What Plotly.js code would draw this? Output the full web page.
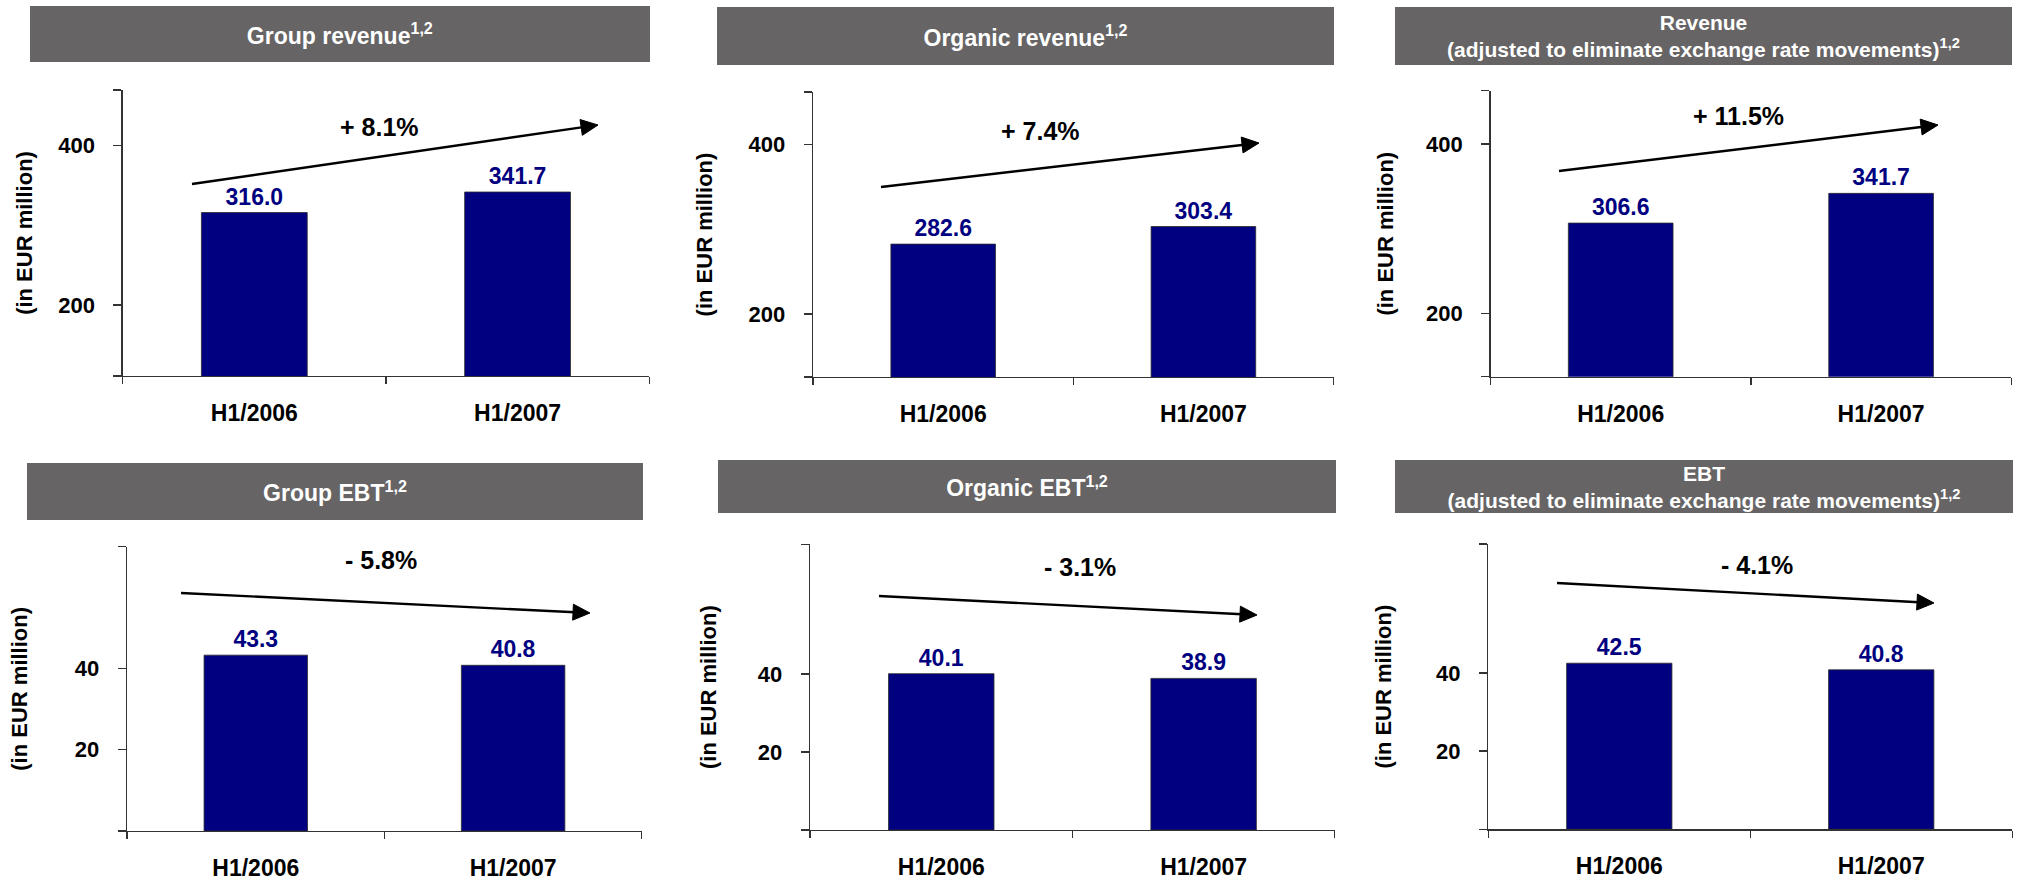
<!DOCTYPE html>
<html>
<head>
<meta charset="utf-8">
<script src="https://cdn.plot.ly/plotly-3.0.1.min.js"></script>
<style>
  html, body { margin: 0; padding: 0; background: #ffffff; }
  #chart { width: 2020px; height: 880px; }
</style>
</head>
<body>
<div id="chart"></div>
<script>
// ---- data ----
const periods = ['H1/2006', 'H1/2007'];

const groupRevenue   = [316.0, 341.7];
const organicRevenue = [282.6, 303.4];
const fxAdjRevenue   = [306.6, 341.7];
const groupEbt       = [43.3, 40.8];
const organicEbt     = [40.1, 38.9];
const fxAdjEbt       = [42.5, 40.8];

const panelTitles = [
  'Group revenue<sup>1,2</sup>',
  'Organic revenue<sup>1,2</sup>',
  'Revenue<br>(adjusted to eliminate exchange rate movements)<sup>1,2</sup>',
  'Group EBT<sup>1,2</sup>',
  'Organic EBT<sup>1,2</sup>',
  'EBT<br>(adjusted to eliminate exchange rate movements)<sup>1,2</sup>'
];
const changeLabels = ['+ 8.1%', '+ 7.4%', '+ 11.5%', '- 5.8%', '- 3.1%', '- 4.1%'];
const revenueTicks = [200, 400];
const ebtTicks = [20, 40];
const yAxisLabel = '(in EUR million)';

const series = [groupRevenue, organicRevenue, fxAdjRevenue, groupEbt, organicEbt, fxAdjEbt];
const tickSets = [revenueTicks, revenueTicks, revenueTicks, ebtTicks, ebtTicks, ebtTicks];

// ---- page geometry (pixels) ----
const W = 2020, H = 880;
const PX = v => v / W;
const PY = v => 1 - v / H;

// plot box [left, right, top, bottom], axis range, header box, trend arrow [tailX, tailY, tipX, tipY],
// change label centre, header font size, y-title standoff
const frames = [
  { box: [122.7, 649.2, 90, 376],       range: [111, 469.6],   head: [29.9, 649.6, 6, 62],     arrow: [192, 184, 598, 125],   pct: [379, 127],  hsize: 23, tstand: 19 },
  { box: [813.1, 1333.5, 92, 377],      range: [125.6, 462.3], head: [717, 1334, 7, 65],       arrow: [881, 187, 1259, 143],  pct: [1040, 131], hsize: 23, tstand: 30 },
  { box: [1490.5, 2011.3, 90.7, 376.7], range: [125.1, 463],   head: [1395, 2012, 7, 64.5],    arrow: [1559, 171, 1938, 125], pct: [1738, 116], hsize: 21, tstand: 26 },
  { box: [127.1, 641.8, 546.7, 831],    range: [0, 70],        head: [27, 643, 463, 520],      arrow: [181, 593, 590, 613],   pct: [381, 560],  hsize: 23, tstand: 41 },
  { box: [810.1, 1334.8, 544.3, 830],   range: [0, 73.3],      head: [718, 1336, 460, 513.3],  arrow: [879, 596, 1257, 615],  pct: [1080, 567], hsize: 23, tstand: 35 },
  { box: [1488.3, 2012.2, 544, 829.3],  range: [0, 73],        head: [1395, 2013, 460, 513.3], arrow: [1557, 583, 1934, 603], pct: [1757, 565], hsize: 21, tstand: 38 }
];

const FONT = 'Liberation Sans, Arial, Helvetica, sans-serif';
const AXIS_COLOR = '#333333';
const BAR_COLOR = '#000080';
const HEADER_BG = '#666465';
const ARROW_HEAD_LEN = 17;
const ARROW_HEAD_HALF = 8;

const traces = [];
const layout = {
  width: W, height: H,
  margin: { l: 0, r: 0, t: 0, b: 0, pad: 0 },
  paper_bgcolor: '#ffffff',
  plot_bgcolor: 'rgba(0,0,0,0)',
  showlegend: false,
  bargap: 0.598,
  font: { family: FONT, color: '#000000' },
  annotations: [],
  shapes: []
};

// trend arrow as a shaft plus a filled head, laid out in page pixels
function addArrow(tx, ty, hx, hy) {
  const dx = hx - tx, dy = hy - ty;
  const len = Math.hypot(dx, dy);
  const ux = dx / len, uy = dy / len;
  const bx = hx - ux * ARROW_HEAD_LEN, by = hy - uy * ARROW_HEAD_LEN;
  const px = -uy * ARROW_HEAD_HALF, py = ux * ARROW_HEAD_HALF;
  layout.shapes.push({
    type: 'line', xref: 'paper', yref: 'paper',
    x0: PX(tx), y0: PY(ty), x1: PX(bx + ux * 2), y1: PY(by + uy * 2),
    line: { color: '#000000', width: 2.4 }
  });
  const pts = [[hx, hy], [bx + px, by + py], [bx - px, by - py]];
  layout.shapes.push({
    type: 'path', xref: 'paper', yref: 'paper',
    path: 'M' + pts.map(p => PX(p[0]) + ',' + PY(p[1])).join(' L') + ' Z',
    fillcolor: '#000000', line: { color: '#000000', width: 1 }
  });
}

frames.forEach((f, i) => {
  const n = i + 1;
  const xName = n === 1 ? 'x' : 'x' + n;
  const yName = n === 1 ? 'y' : 'y' + n;
  const xKey = n === 1 ? 'xaxis' : 'xaxis' + n;
  const yKey = n === 1 ? 'yaxis' : 'yaxis' + n;
  const ox = 6 + n, oy = 6 + n;           // overlay axes carrying the inner half of each tick
  const [l, r, t, b] = f.box;
  const xDom = [PX(l), PX(r)];
  const yDom = [PY(b), PY(t)];
  const ticks = tickSets[i];
  const edges = [f.range[0], f.range[1]];

  traces.push({
    type: 'bar',
    x: periods,
    y: series[i],
    xaxis: xName,
    yaxis: yName,
    marker: { color: BAR_COLOR, line: { color: '#2b2b2b', width: 0.8 } },
    texttemplate: '%{y:.1f}',
    textposition: 'outside',
    constraintext: 'none',
    cliponaxis: false,
    outsidetextfont: { family: FONT, size: 23, color: BAR_COLOR, weight: 'bold' },
    hoverinfo: 'skip'
  });

  layout[xKey] = {
    domain: xDom, anchor: yName, type: 'category',
    range: [-0.5, 1.5], fixedrange: true,
    showline: true, linecolor: AXIS_COLOR, linewidth: 1.4,
    ticks: 'outside', tickson: 'boundaries', ticklen: 7, tickwidth: 1.3, tickcolor: AXIS_COLOR,
    ticklabelstandoff: 16,
    tickfont: { family: FONT, size: 23, color: '#000000', weight: 'bold' },
    showgrid: false, zeroline: false, automargin: false
  };
  layout[yKey] = {
    domain: yDom, anchor: xName, range: f.range, fixedrange: true,
    tickmode: 'array', tickvals: ticks, ticktext: ticks.map(String),
    minor: { tickmode: 'array', tickvals: edges, ticks: 'outside', ticklen: 8, tickwidth: 1.3, tickcolor: AXIS_COLOR, showgrid: false },
    showline: true, linecolor: AXIS_COLOR, linewidth: 1.4,
    ticks: 'outside', ticklen: 8, tickwidth: 1.3, tickcolor: AXIS_COLOR,
    ticklabelstandoff: 14,
    tickfont: { family: FONT, size: 22, color: '#000000', weight: 'bold' },
    title: { text: yAxisLabel, font: { family: FONT, size: 22, color: '#000000', weight: 'bold' }, standoff: f.tstand },
    showgrid: false, zeroline: false, automargin: false
  };
  layout['xaxis' + ox] = {
    domain: xDom, anchor: yName, overlaying: xName, type: 'linear',
    range: [-0.5, 1.5], fixedrange: true,
    tickmode: 'array', tickvals: [-0.5, 0.5, 1.5], showticklabels: false,
    ticks: 'inside', ticklen: 8, tickwidth: 1.3, tickcolor: AXIS_COLOR,
    showline: false, showgrid: false, zeroline: false
  };
  layout['yaxis' + oy] = {
    domain: yDom, anchor: xName, overlaying: yName, range: f.range, fixedrange: true,
    tickmode: 'array', tickvals: [edges[0]].concat(ticks, [edges[1]]), showticklabels: false,
    ticks: 'inside', ticklen: 8, tickwidth: 1.3, tickcolor: AXIS_COLOR,
    showline: false, showgrid: false, zeroline: false
  };

  // header band
  const [hl, hr, ht, hb] = f.head;
  layout.annotations.push({
    xref: 'paper', yref: 'paper',
    x: PX((hl + hr) / 2), y: PY((ht + hb) / 2),
    xanchor: 'center', yanchor: 'middle',
    width: hr - hl, height: hb - ht,
    bgcolor: HEADER_BG, borderpad: 0, borderwidth: 0,
    align: 'center', valign: 'middle',
    text: panelTitles[i], showarrow: false,
    font: { family: FONT, size: f.hsize, color: '#ffffff', weight: 'bold' }
  });

  // trend arrow
  addArrow(f.arrow[0], f.arrow[1], f.arrow[2], f.arrow[3]);

  // change label
  layout.annotations.push({
    xref: 'paper', yref: 'paper',
    x: PX(f.pct[0]), y: PY(f.pct[1]),
    xanchor: 'center', yanchor: 'middle',
    text: changeLabels[i], showarrow: false,
    font: { family: FONT, size: 25, color: '#000000', weight: 'bold' }
  });
});

Plotly.newPlot('chart', traces, layout, { displayModeBar: false, staticPlot: true });
</script>
</body>
</html>
